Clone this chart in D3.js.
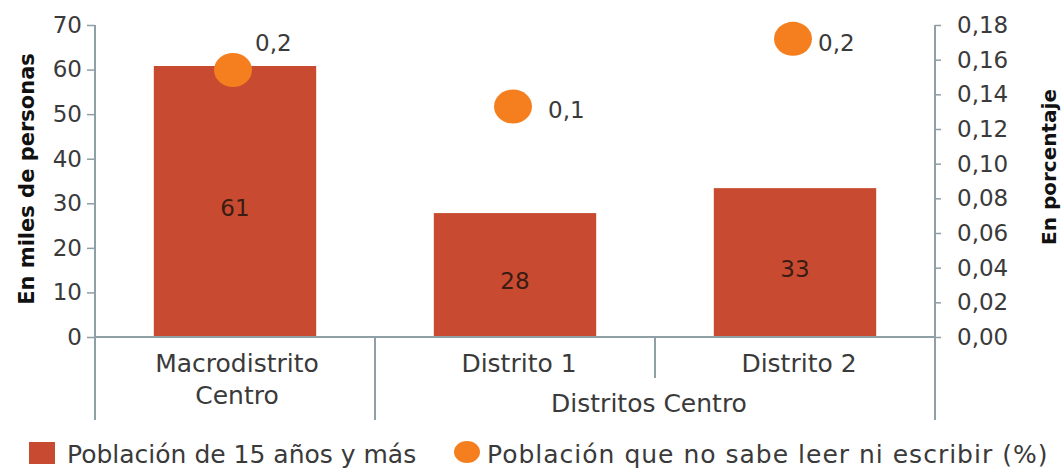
<!DOCTYPE html>
<html>
<head>
<meta charset="utf-8">
<script src="https://cdn.jsdelivr.net/npm/d3@7"></script>
<style>
  body { margin: 0; background: #fff; }
  svg { display: block; font-family: "DejaVu Sans", sans-serif; }
</style>
</head>
<body>
<div id="chart"></div>
<script>
// Data
const categories = ["Macrodistrito Centro", "Distrito 1", "Distrito 2"];
const categoryLines = [["Macrodistrito", "Centro"], ["Distrito 1"], ["Distrito 2"]];
const poblacion = [60.8, 27.8, 33.4];          // miles de personas
const analfabetismo = [0.154, 0.133, 0.172];    // porcentaje
const leftTicks = [0, 10, 20, 30, 40, 50, 60, 70];
const rightTicks = [0, 0.02, 0.04, 0.06, 0.08, 0.10, 0.12, 0.14, 0.16, 0.18];
const groupLabel = "Distritos Centro";
const seriesNames = ["Población de 15 años y más", "Población que no sabe leer ni escribir (%)"];

const width = 1063, height = 471;
const margin = { top: 25, right: 128, bottom: 134, left: 95 };
const innerW = width - margin.left - margin.right;
const innerH = height - margin.top - margin.bottom;

const barColor = "#C84B31";
const dotColor = "#F57F1E";
const axisColor = "#8E9FA6";
const textColor = "#3a3a3a";

const es = d3.formatLocale({ decimal: ",", thousands: ".", grouping: [3], currency: ["", ""] });

const svg = d3.select("#chart").append("svg")
    .attr("width", width)
    .attr("height", height);

const g = svg.append("g").attr("transform", `translate(${margin.left},${margin.top})`);

// Scales
const x = d3.scaleBand()
    .domain(categories)
    .range([0, innerW])
    .paddingInner(0.42)
    .paddingOuter(0.21);

const yLeft = d3.scaleLinear().domain([0, 70]).range([innerH, 0]);
const yRight = d3.scaleLinear().domain([0, 0.18]).range([innerH, 0]);

// Bars
g.selectAll(".bar")
    .data(poblacion)
    .enter().append("rect")
    .attr("class", "bar")
    .attr("x", (d, i) => x(categories[i]))
    .attr("width", x.bandwidth())
    .attr("y", d => yLeft(d))
    .attr("height", d => innerH - yLeft(d))
    .attr("fill", barColor);

// Bar value labels
g.selectAll(".bar-label")
    .data(poblacion)
    .enter().append("text")
    .attr("class", "bar-label")
    .attr("x", (d, i) => x(categories[i]) + x.bandwidth() / 2)
    .attr("y", d => (yLeft(d) + innerH) / 2 + 6)
    .attr("text-anchor", "middle")
    .attr("dominant-baseline", "central")
    .attr("font-size", "23px")
    .attr("fill", "#3a1c12")
    .text(d => Math.round(d));

// Left axis
const leftAxis = g.append("g")
    .call(d3.axisLeft(yLeft).tickValues(leftTicks).tickSize(8).tickPadding(5));
leftAxis.select(".domain").remove();
leftAxis.selectAll("line").attr("stroke", axisColor).attr("stroke-width", 1.5);
leftAxis.selectAll("text").attr("font-size", "23px").attr("fill", textColor)
    .attr("font-family", "DejaVu Sans");

// Right axis
const rightAxis = g.append("g")
    .attr("transform", `translate(${innerW},0)`)
    .call(d3.axisRight(yRight).tickValues(rightTicks).tickSize(6).tickPadding(16)
        .tickFormat(es.format(".2f")));
rightAxis.select(".domain").remove();
rightAxis.selectAll("line").attr("stroke", axisColor).attr("stroke-width", 1.5);
rightAxis.selectAll("text").attr("font-size", "23px").attr("fill", textColor)
    .attr("font-family", "DejaVu Sans");

// Axis lines (vertical axes continue down into the category area)
const catBottom = innerH + 83;
const frame = g.append("g").attr("stroke", axisColor).attr("stroke-width", 2).attr("fill", "none");
frame.append("line").attr("x1", 0).attr("x2", 0).attr("y1", 0).attr("y2", catBottom);
frame.append("line").attr("x1", innerW).attr("x2", innerW).attr("y1", 0).attr("y2", catBottom);
frame.append("line").attr("x1", 0).attr("x2", innerW).attr("y1", innerH).attr("y2", innerH);

// Category separators
const step = x.step();
const sep1 = x(categories[1]) - step * x.paddingInner() / 2;
const sep2 = x(categories[2]) - step * x.paddingInner() / 2;
frame.append("line").attr("x1", sep1).attr("x2", sep1).attr("y1", innerH).attr("y2", catBottom);
frame.append("line").attr("x1", sep2).attr("x2", sep2).attr("y1", innerH).attr("y2", innerH + 41);

// Category labels
const catText = g.append("g")
    .attr("font-size", "25px")
    .attr("fill", textColor)
    .attr("text-anchor", "middle");
categoryLines.forEach((lines, i) => {
    lines.forEach((line, j) => {
        catText.append("text")
            .attr("x", x(categories[i]) + x.bandwidth() / 2 + (i === 0 ? 2 : 4))
            .attr("y", innerH + 26 + j * 32)
            .attr("dominant-baseline", "central")
            .text(line);
    });
});
catText.append("text")
    .attr("x", (sep1 + innerW) / 2 - 6)
    .attr("y", innerH + 66)
    .attr("dominant-baseline", "central")
    .text(groupLabel);

// Dots
const cx = i => x(categories[i]) + x.bandwidth() / 2 - 2;
g.selectAll(".dot")
    .data(analfabetismo)
    .enter().append("ellipse")
    .attr("class", "dot")
    .attr("cx", (d, i) => cx(i))
    .attr("cy", d => yRight(d))
    .attr("rx", 19)
    .attr("ry", 17)
    .attr("fill", dotColor);

// Dot labels: first one sits above-right, the others to the right
const labelPlace = ["above", "right", "right"];
g.selectAll(".dot-label")
    .data(analfabetismo)
    .enter().append("text")
    .attr("class", "dot-label")
    .attr("x", (d, i) => cx(i) + (labelPlace[i] === "above" ? 22 : (i === 1 ? 35 : 25)))
    .attr("y", (d, i) => yRight(d) + (labelPlace[i] === "above" ? -27 : 4))
    .attr("dominant-baseline", "central")
    .attr("font-size", "23px")
    .attr("fill", textColor)
    .text(d => es.format(".1f")(d));

// Axis titles
svg.append("text")
    .attr("transform", `translate(34,${margin.top + innerH / 2 - 2})rotate(-90)`)
    .attr("text-anchor", "middle")
    .attr("font-size", "21px")
    .attr("font-weight", "bold")
    .attr("fill", "#111")
    .text("En miles de personas");

svg.append("text")
    .attr("transform", `translate(1056,${margin.top + innerH / 2 - 14})rotate(-90)`)
    .attr("text-anchor", "middle")
    .attr("font-size", "20px")
    .attr("font-weight", "bold")
    .attr("fill", "#111")
    .text("En porcentaje");

// Legend
const legend = svg.append("g").attr("font-size", "25px").attr("fill", textColor);
legend.append("rect")
    .attr("x", 29).attr("y", 442).attr("width", 26).attr("height", 22)
    .attr("fill", barColor);
legend.append("text")
    .attr("x", 67).attr("y", 454)
    .attr("dominant-baseline", "central")
    .text(seriesNames[0]);
legend.append("ellipse")
    .attr("cx", 467).attr("cy", 452).attr("rx", 13).attr("ry", 11)
    .attr("fill", dotColor);
legend.append("text")
    .attr("x", 487).attr("y", 454)
    .attr("dominant-baseline", "central")
    .attr("letter-spacing", "1px")
    .text(seriesNames[1]);
</script>
</body>
</html>
